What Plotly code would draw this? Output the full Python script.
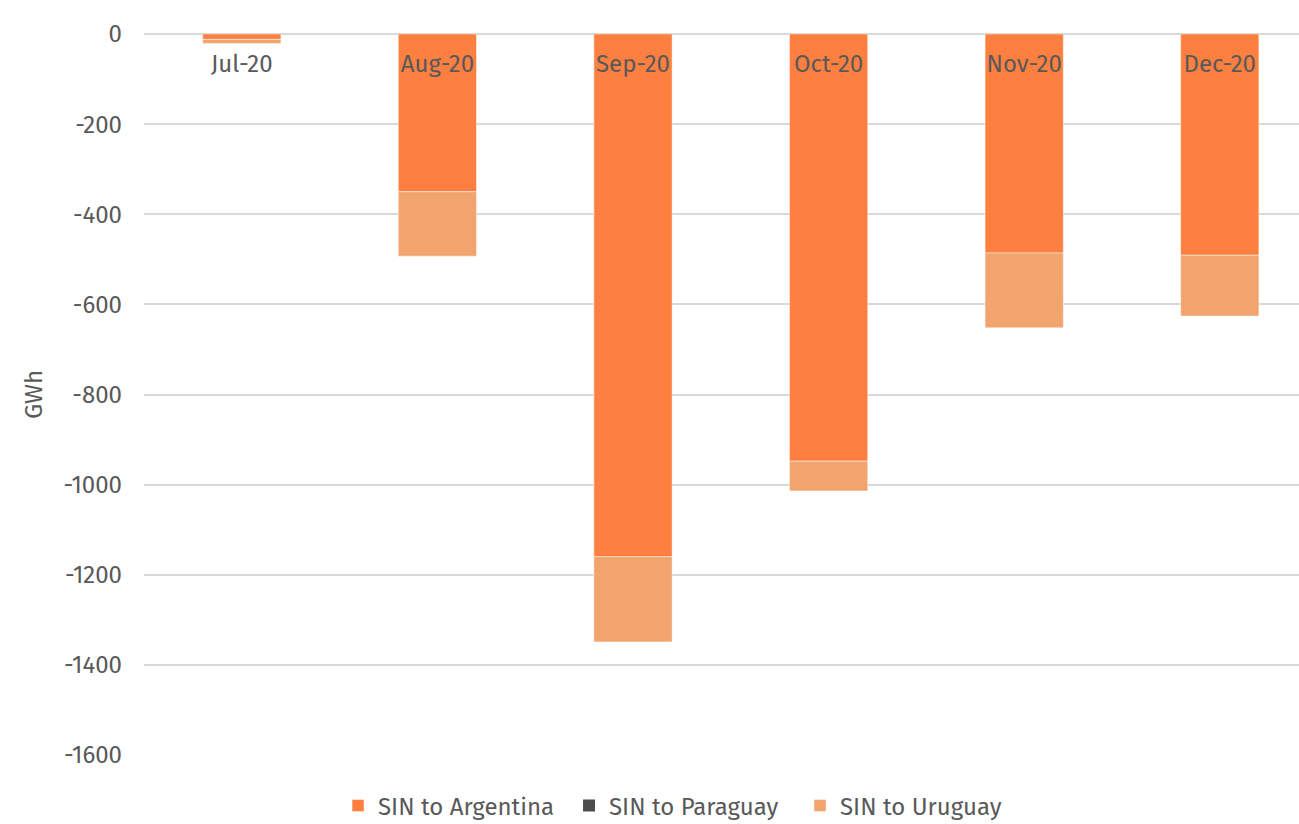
import plotly.graph_objects as go

months = ["Jul-20", "Aug-20", "Sep-20", "Oct-20", "Nov-20", "Dec-20"]
sin_to_argentina = [-12, -350, -1160, -948, -486, -491]
sin_to_paraguay = [0, 0, 0, 0, 0, 0]
sin_to_uruguay = [-9, -143, -189, -66, -166, -135]
y_ticks = [0, -200, -400, -600, -800, -1000, -1200, -1400, -1600]
y_tick_labels = [str(v) for v in y_ticks]

font_family = "Fira Sans, Lato, Open Sans, sans-serif"
text_color = "#595959"
fsize = 24

fig = go.Figure()
fig.add_trace(go.Bar(
    x=months, y=sin_to_argentina, name="SIN to Argentina",
    marker=dict(color="#FE8040", line=dict(color="rgba(255,255,255,0.45)", width=1)),
))
fig.add_trace(go.Bar(
    x=months, y=sin_to_paraguay, name="SIN to Paraguay",
    marker=dict(color="#4D4D4D", line=dict(width=0)),
))
fig.add_trace(go.Bar(
    x=months, y=sin_to_uruguay, name="SIN to Uruguay",
    marker=dict(color="#F2A46E", line=dict(color="rgba(255,255,255,0.45)", width=1)),
))

fig.update_layout(
    width=1299, height=824,
    margin=dict(l=144, r=0, t=34, b=69, autoexpand=False),
    barmode="relative",
    bargap=0.6,
    plot_bgcolor="white",
    paper_bgcolor="white",
    font=dict(family=font_family, size=fsize, color=text_color),
    legend=dict(
        orientation="h", x=0.468, xanchor="center",
        yref="container", y=0.022, yanchor="middle",
        font=dict(size=fsize, color=text_color), traceorder="normal",
        entrywidth=186, entrywidthmode="pixels",
    ),
    xaxis=dict(
        side="top", ticks="",
        range=[-0.5, 5.405], showgrid=False, showline=False,
        tickfont=dict(size=fsize, color=text_color),
        ticklabelstandoff=-44,
    ),
    yaxis=dict(
        range=[-1600, 0], tickvals=y_ticks, ticktext=y_tick_labels,
        showgrid=True, gridcolor="#D9D9D9", gridwidth=1.5,
        zeroline=True, zerolinecolor="#D9D9D9", zerolinewidth=1.5,
        tickfont=dict(size=fsize, color=text_color), ticks="", ticklabelstandoff=21,
        title=dict(text="GWh", font=dict(size=fsize, color=text_color), standoff=14),
    ),
)

fig.write_html("out.html")
